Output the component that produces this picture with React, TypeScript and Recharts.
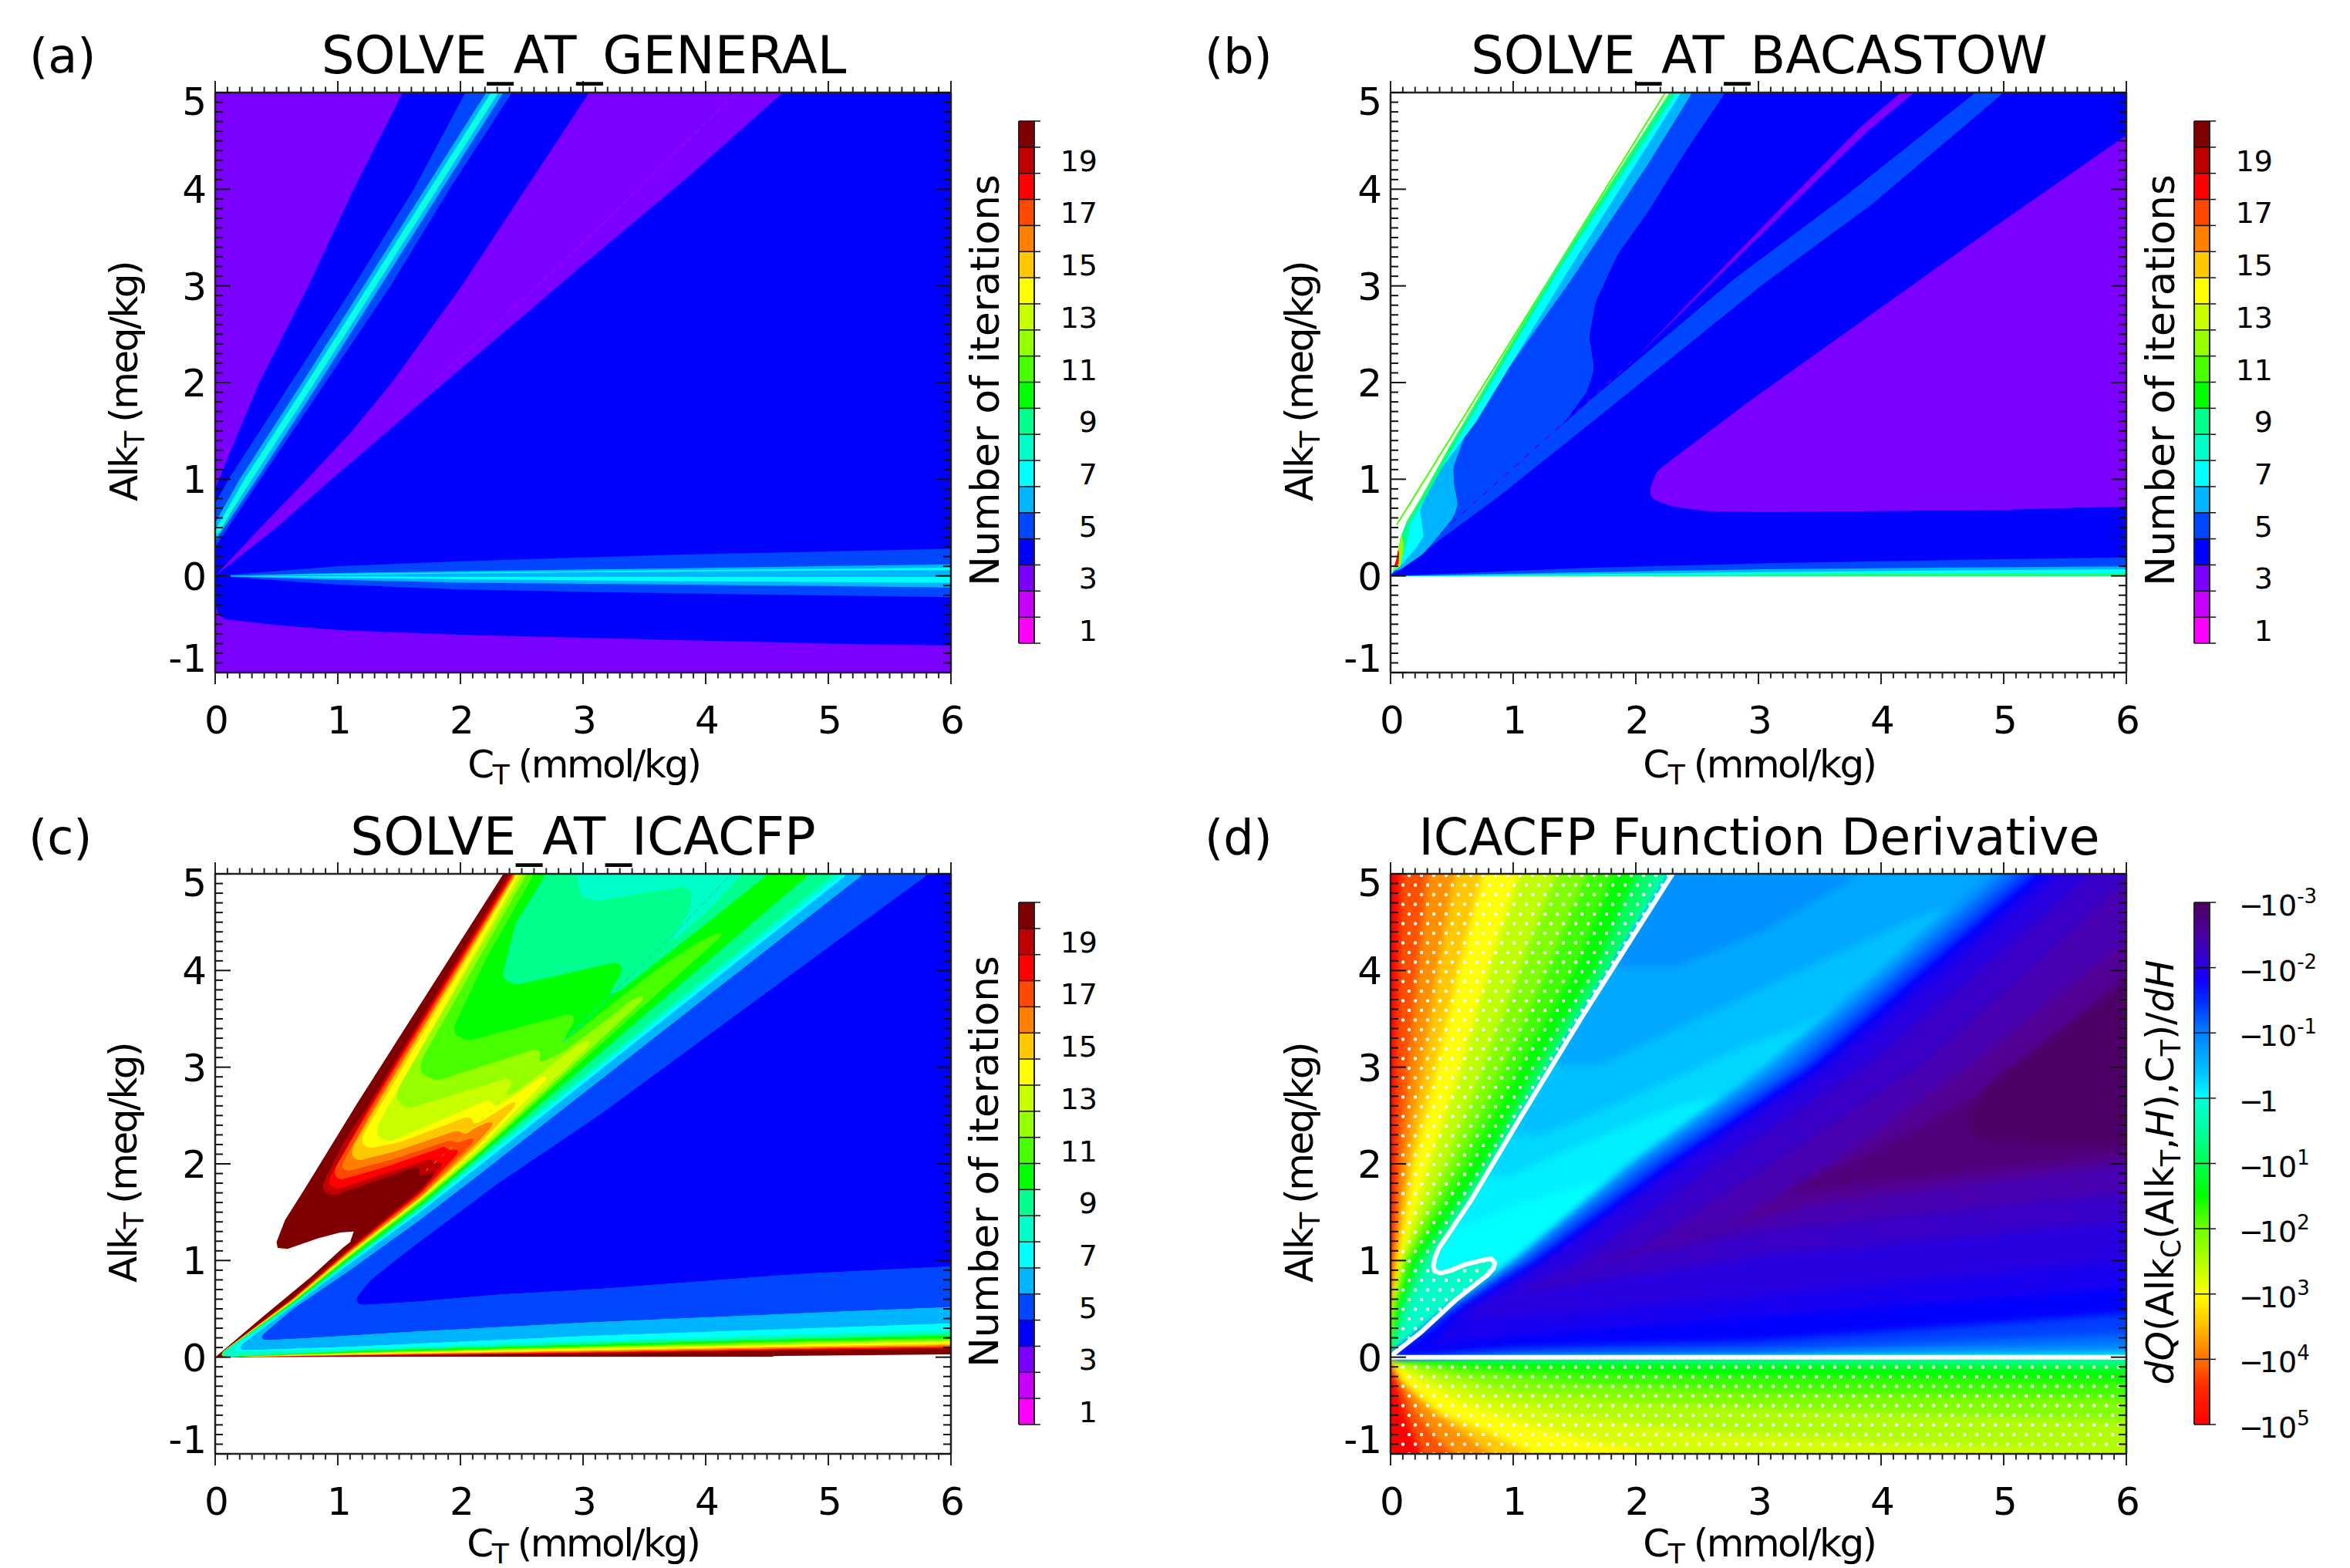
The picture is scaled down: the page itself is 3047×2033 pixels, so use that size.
import { Area, ComposedChart, Line, XAxis, YAxis } from 'recharts'

type Pt = [number, number]
type Layer = { fill: string; pts: Pt[]; cls?: string }
type Stroke = { stroke: string; width: number; dash?: string; pts: Pt[] }

const FONT = '"DejaVu Sans", sans-serif'

// axes
const xMajor = [0, 1, 2, 3, 4, 5, 6]
const yMajor = [-1, 0, 1, 2, 3, 4, 5]
const xTicks = Array.from({ length: 61 }, (_, i) => i / 10)
const yTicks = Array.from({ length: 61 }, (_, i) => (i - 10) / 10)

// colour levels, one per iteration count
const levels = [1, 2, 3, 4, 5, 6, 7, 8, 9, 10, 11, 12, 13, 14, 15, 16, 17, 18, 19, 20]
const levelColors = ['#ff00ff', '#c800ff', '#7b00ff', '#0000ff', '#0047ff', '#00b4ff', '#00ffff', '#00ffc8', '#00ff8c', '#00ff00', '#48ff00', '#96ff00', '#c8ff00', '#ffff00', '#ffc800', '#ff7f00', '#ff4800', '#ff0000', '#bf0000', '#7f0000']
const [, , C3, C4, C5, C6, C7, C8, C9, C10, C11, C12, C13, C14, C15, C16, C17, C18, C19, C20] = levelColors
const levelTickLabels = [1, 3, 5, 7, 9, 11, 13, 15, 17, 19]
const levelEdges = [0.5, 1.5, 2.5, 3.5, 4.5, 5.5, 6.5, 7.5, 8.5, 9.5, 10.5, 11.5, 12.5, 13.5, 14.5, 15.5, 16.5, 17.5, 18.5, 19.5, 20.5]

const decadeExponents = [-3, -2, -1, 0, 1, 2, 3, 4, 5]
const decadeStops: [string, string][] = [['0%', '#4d0060'], ['6%', '#4b00a0'], ['12%', '#2c00e0'], ['15%', '#1000ff'], ['19%', '#0030ff'], ['25%', '#0080ff'], ['33%', '#00c8ff'], ['37.4%', '#00ffff'], ['37.6%', '#00ffd8'], ['44%', '#00ff98'], ['50%', '#00ff50'], ['56%', '#00ff00'], ['62.5%', '#70ff00'], ['70%', '#c0ff00'], ['75%', '#ffff00'], ['81%', '#ffc000'], ['87.5%', '#ff7000'], ['93%', '#ff2800'], ['100%', '#ff0000']]

// (a) SOLVE_AT_GENERAL
const aBack: Pt[] = [[0, -1], [6, -1], [6, 5], [0, 5]]
const aBlueLeft: Pt[] = [[0, 0.9], [0.19, 1.49], [0.36, 2], [0.76, 3], [1.13, 4], [1.53, 5], [3.05, 5], [2.53, 4], [2.01, 3], [1.44, 2], [1.11, 1.49], [0.75, 1], [0.37, 0.5], [0, 0]]
const aBlueMain: Pt[] = [[0, 0], [0.5, 0.5], [0.95, 1], [1.4, 1.49], [1.87, 2], [2.43, 2.6], [3.03, 3.25], [3.85, 4.12], [4.63, 5], [6, 5], [6, -0.72], [5, -0.7], [4, -0.67], [3, -0.64], [2, -0.61], [1, -0.56], [0.5, -0.51], [0.09, -0.45], [0.03, -0.41], [0, -0.29]]
const aBand5: Pt[] = [[0, 0.75], [0.11, 1], [0.62, 2], [1.13, 3], [1.62, 4], [2.04, 5], [2.42, 5], [1.91, 4], [1.43, 3], [0.9, 2], [0.37, 1], [0, 0.3]]
const aBand6: Pt[] = [[0, 0.55], [0.2, 1], [0.71, 2], [1.21, 3], [1.71, 4], [2.21, 5], [2.35, 5], [1.85, 4], [1.35, 3], [0.85, 2], [0.34, 1], [0, 0.36]]
const aBand7: Pt[] = [[0, 0.47], [0.24, 1], [0.75, 2], [1.25, 3], [1.75, 4], [2.25, 5], [2.31, 5], [1.81, 4], [1.31, 3], [0.81, 2], [0.3, 1], [0, 0.4]]
const aZero5: Pt[] = [[0, 0], [1, 0.1], [2, 0.15], [3, 0.19], [3.8, 0.22], [6, 0.28], [6, -0.22], [3.8, -0.18], [3, -0.165], [2, -0.14], [1, -0.09]]
const aZero6: Pt[] = [[0, 0], [1, 0.03], [2, 0.05], [3.8, 0.08], [6, 0.12], [6, -0.12], [3.8, -0.09], [2, -0.07], [1, -0.04]]
const aZero7Top: Pt[] = [[0.3, 0.01], [1, 0.02], [2, 0.035], [3.8, 0.06], [6, 0.085], [6, 0.06], [3.8, 0.045], [2, 0.025], [1, 0.012]]
const aZero7Low: Pt[] = [[0, 0], [1, -0.005], [2, -0.01], [3.8, -0.01], [6, -0.01], [6, -0.07], [3.8, -0.055], [2, -0.035], [1, -0.02]]
const layersA: Layer[] = [
  { fill: C3, pts: aBack },
  { fill: C4, pts: aBlueLeft },
  { fill: C4, pts: aBlueMain },
  { fill: C5, pts: aBand5 },
  { fill: C6, pts: aBand6 },
  { fill: C7, pts: aBand7 },
  { fill: C5, pts: aZero5 },
  { fill: C6, pts: aZero6 },
  { fill: C7, pts: aZero7Top },
  { fill: C7, pts: aZero7Low },
]
const linesA: Stroke[] = [
  { stroke: '#30ff90', width: 1.5, pts: [[0.03, 0.45], [0.27, 1], [0.78, 2], [1.28, 3], [1.78, 4], [2.28, 5]] },
  { stroke: '#c800ff', width: 1, dash: '8 5', pts: [[1.78, 2], [3.03, 3.48], [4.25, 5]] },
]

// (b) SOLVE_AT_BACASTOW
const bBlue: Pt[] = [[0, 0], [2.3, 5], [6, 5], [6, 0]]
const bDiag: Pt[] = [[0, 0], [0.88, 0.98], [1.65, 1.84], [2.81, 3.08], [3.71, 3.93], [4.77, 5], [5, 5], [3.93, 3.85], [3.02, 3], [1.65, 1.6], [0.88, 0.82]]
const bSliver: Pt[] = [[1.97, 2.22], [3.07, 3.66], [3.83, 4.64], [4.16, 5], [4.27, 5], [3.89, 4.6], [3.11, 3.64]]
const bBigPurple: Pt[] = [[2.11, 0.88], [2.17, 1.08], [2.29, 1.2], [2.94, 1.82], [3.87, 2.66], [4.89, 3.58], [6, 4.56], [6, 0.72], [4.89, 0.68], [3.87, 0.67], [3.06, 0.66], [2.58, 0.67], [2.29, 0.72], [2.13, 0.8]]
const bLeftEdge: Pt[] = [[0.01, 0.02], [0.055, 0.19], [0.08, 0.39], [0.13, 0.55], [0.24, 0.78], [0.5, 1.37], [1.36, 3.2], [2.28, 5]]
const b5: Pt[] = [[0, 0], ...bLeftEdge, [2.73, 5], [2.42, 4.42], [2.1, 3.77], [1.85, 3.32], [1.67, 2.83], [1.62, 2.47], [1.66, 2.14], [1.6, 1.9], [1.43, 1.61], [1.2, 1.29], [0.9, 0.98], [0.6, 0.66], [0.3, 0.34]]
const b6: Pt[] = [...bLeftEdge, [2.46, 5], [2.1, 4.26], [1.46, 3.04], [0.82, 1.9], [0.63, 1.53], [0.51, 1.12], [0.52, 0.92], [0.55, 0.74], [0.51, 0.6], [0.27, 0.23], [0.05, 0.04]]
const b7: Pt[] = [...bLeftEdge, [2.37, 5], [1.42, 3.1], [0.7, 1.6], [0.35, 1], [0.24, 0.68], [0.27, 0.41], [0.21, 0.29], [0.1, 0.13]]
const b9: Pt[] = [...bLeftEdge, [2.33, 5], [1.39, 3.2], [0.53, 1.37], [0.28, 0.8], [0.16, 0.55], [0.14, 0.39], [0.1, 0.21]]
const bYellow: Pt[] = [[0.02, 0.06], [0.055, 0.19], [0.08, 0.39], [0.09, 0.44], [0.11, 0.3], [0.08, 0.1]]
const bRed: Pt[] = [[0.03, 0.1], [0.05, 0.19], [0.06, 0.27], [0.07, 0.24], [0.065, 0.12]]
const bLow5: Pt[] = [[0, 0], [1.65, 0.085], [3.06, 0.13], [4.89, 0.17], [6, 0.19], [6, 0]]
const bLow6: Pt[] = [[0, 0], [1.65, 0.04], [3.06, 0.07], [4.89, 0.09], [6, 0.1], [6, 0]]
const bLow7: Pt[] = [[0, 0], [1.65, 0.02], [3.06, 0.04], [4.89, 0.06], [6, 0.07], [6, 0]]
const bLow9: Pt[] = [[0.3, 0], [3.06, 0.018], [6, 0.03], [6, 0]]
const layersB: Layer[] = [
  { fill: C4, pts: bBlue },
  { fill: C5, pts: bDiag },
  { fill: C3, pts: bSliver },
  { fill: C3, pts: bBigPurple, cls: 'round' },
  { fill: C5, pts: b5, cls: 'round' },
  { fill: C6, pts: b6, cls: 'round' },
  { fill: C7, pts: b7 },
  { fill: C9, pts: b9 },
  { fill: C12, pts: bYellow },
  { fill: C18, pts: bRed },
  { fill: C5, pts: bLow5 },
  { fill: C6, pts: bLow6 },
  { fill: C7, pts: bLow7 },
  { fill: '#20ff60', pts: bLow9 },
]
const linesB: Stroke[] = [
  { stroke: '#48ff00', width: 2, pts: [[0.05, 0.53], [2.24, 5]] },
  { stroke: '#5000ff', width: 1.5, dash: '8 10', pts: [[0.5, 0.55], [1.97, 2.22]] },
  { stroke: '#30ff60', width: 2, pts: bLeftEdge.slice(3) },
]

// (c) SOLVE_AT_ICACFP, painted from the highest count down
const cEnvelope: Pt[] = [[2.35, 5], [1.16, 2.63], [0.72, 1.72], [0.57, 1.42], [0.5, 1.19], [0.51, 1.13], [0.59, 1.12], [0.84, 1.23], [1.02, 1.29], [1.13, 1.3], [1.1, 1.19], [1.04, 1.13], [0.78, 0.83], [0.39, 0.42], [0, 0], [1.55, 0.006], [4.55, 0.006], [4.55, 0.012], [6, 0.03], [6, 5]]
const c19: Pt[] = [[2.4, 5], [1.26, 2.63], [1.05, 2.23], [0.91, 1.88], [0.87, 1.75], [0.9, 1.69], [0.97, 1.67], [1.26, 1.8], [1.66, 1.98], [1.69, 1.95], [1.62, 1.83], [1.56, 1.74], [1.72, 1.9], [1.84, 1.96], [1.68, 1.74], [1.09, 1.125], [0.635, 0.62], [0, 0], [1.1, 0.014], [3.03, 0.035], [4.85, 0.07], [6, 0.085], [6, 5]]
const c18: Pt[] = [[2.417, 5], [1.275, 2.63], [0.92, 1.83], [0.94, 1.75], [1.01, 1.74], [1.33, 1.88], [1.77, 2.06], [1.8, 2.03], [1.72, 1.93], [1.8, 2], [1.92, 2.08], [1.68, 1.72], [1.09, 1.11], [0.635, 0.61], [0, 0], [1.1, 0.017], [3.03, 0.043], [4.85, 0.08], [6, 0.095], [6, 5]]
const c17: Pt[] = [[2.43, 5], [1.29, 2.63], [0.98, 1.96], [0.97, 1.87], [1.01, 1.83], [1.37, 1.96], [1.83, 2.16], [1.88, 2.2], [1.91, 2.23], [1.89, 2.16], [1.85, 2.08], [1.88, 2.12], [2.04, 2.19], [1.68, 1.7], [1.09, 1.1], [0.635, 0.605], [0, 0], [1.1, 0.02], [3.03, 0.05], [4.85, 0.087], [6, 0.105], [6, 5]]
const c16: Pt[] = [[2.44, 5], [1.31, 2.63], [1.02, 1.96], [1.07, 1.92], [1.43, 2.04], [1.93, 2.25], [1.97, 2.21], [2.18, 2.32], [1.68, 1.68], [1.09, 1.09], [0.635, 0.6], [0, 0], [1.1, 0.022], [3.03, 0.058], [4.85, 0.095], [6, 0.115], [6, 5]]
const c15: Pt[] = [[2.45, 5], [1.33, 2.63], [1.12, 2.17], [1.11, 2.08], [1.16, 2.03], [1.47, 2.13], [1.98, 2.35], [2.03, 2.32], [2, 2.25], [2.1, 2.36], [2.33, 2.49], [2.145, 2.23], [1.68, 1.66], [1.09, 1.08], [0.635, 0.595], [0, 0], [1.1, 0.025], [3.03, 0.065], [4.85, 0.105], [6, 0.125], [6, 5]]
const c14: Pt[] = [[2.46, 5], [1.36, 2.63], [1.21, 2.31], [1.19, 2.2], [1.26, 2.16], [1.52, 2.23], [2.06, 2.49], [2.12, 2.47], [2.06, 2.36], [2.25, 2.5], [2.42, 2.64], [2.53, 2.71], [2.145, 2.19], [1.68, 1.65], [1.09, 1.07], [0.635, 0.59], [0, 0], [1.1, 0.03], [3.03, 0.075], [4.85, 0.115], [6, 0.14], [6, 5]]
const c13: Pt[] = [[2.48, 5], [1.33, 2.41], [1.31, 2.29], [1.42, 2.23], [2.26, 2.68], [2.26, 2.6], [2.18, 2.46], [2.28, 2.59], [2.44, 2.71], [2.67, 2.91], [2.78, 2.97], [2.145, 2.16], [1.68, 1.64], [1.09, 1.06], [0.635, 0.585], [0, 0], [1.1, 0.035], [3.03, 0.085], [4.85, 0.13], [6, 0.155], [6, 5]]
const c12: Pt[] = [[2.51, 5], [1.5, 2.8], [1.47, 2.66], [1.57, 2.57], [2.42, 2.9], [2.42, 2.82], [2.32, 2.66], [2.44, 2.73], [2.69, 2.97], [2.98, 3.25], [3.13, 3.32], [2.145, 2.13], [1.68, 1.63], [1.09, 1.05], [0.635, 0.58], [0, 0], [1.1, 0.04], [3.03, 0.095], [4.85, 0.14], [6, 0.17], [6, 5]]
const c11: Pt[] = [[2.54, 5], [1.68, 3.07], [1.67, 2.94], [1.81, 2.86], [2.64, 3.2], [2.66, 3.11], [2.54, 2.92], [2.69, 3.07], [2.84, 3.16], [3.15, 3.45], [3.4, 3.7], [3.58, 3.8], [2.145, 2.11], [1.68, 1.62], [1.09, 1.04], [0.635, 0.575], [0, 0], [1.1, 0.045], [3.03, 0.105], [4.85, 0.155], [6, 0.185], [6, 5]]
const c10: Pt[] = [[2.6, 5], [2.2, 4.1], [1.95, 3.43], [1.94, 3.35], [2.06, 3.27], [2.91, 3.56], [2.94, 3.49], [2.82, 3.27], [2.84, 3.25], [3.19, 3.61], [3.61, 4.02], [3.92, 4.28], [4.24, 4.48], [2.145, 2.1], [1.68, 1.6], [1.09, 1.03], [0.635, 0.57], [0, 0], [1.1, 0.05], [3.03, 0.115], [4.85, 0.17], [6, 0.2], [6, 5]]
const c9Left: Pt[] = [[2.7, 5], [2.45, 4.49], [2.35, 4], [2.34, 3.92], [2.45, 3.85], [3.28, 4.09], [3.33, 4.02], [3.25, 3.84], [3.15, 3.68], [3.33, 3.82], [3.93, 4.41], [4.51, 5]]
const c9Right: Pt[] = [[4.85, 5], [2.145, 2.07], [1.68, 1.575], [1.09, 1.01], [0.635, 0.56], [0, 0], [1.1, 0.06], [3.03, 0.13], [4.85, 0.19], [6, 0.225], [6, 5]]
const c8Left: Pt[] = [[2.95, 5], [2.98, 4.76], [3.12, 4.72], [3.83, 4.87], [3.89, 4.82], [3.87, 4.61], [3.67, 4.25], [3.35, 3.84], [3.79, 4.36], [4.05, 4.66], [4.3, 5]]
const c8Right: Pt[] = [[5.05, 5], [2.145, 2.04], [1.68, 1.55], [1.09, 0.99], [0.635, 0.55], [0, 0], [1.1, 0.07], [3.03, 0.15], [4.85, 0.21], [6, 0.25], [6, 5]]
const c7: Pt[] = [[5.11, 5], [2.145, 2.01], [1.68, 1.53], [1.09, 0.98], [0.635, 0.54], [0.1, 0.06], [1.1, 0.085], [3.03, 0.17], [4.85, 0.24], [6, 0.28], [6, 5]]
const c6: Pt[] = [[5.16, 5], [2.145, 1.97], [1.68, 1.51], [1.09, 0.96], [0.635, 0.53], [0.15, 0.07], [1.1, 0.11], [3.03, 0.22], [4.85, 0.3], [6, 0.35], [6, 5]]
const c5: Pt[] = [[5.29, 5], [2.145, 1.88], [1.68, 1.43], [1.09, 0.89], [0.635, 0.5], [0.33, 0.17], [0.78, 0.2], [1.55, 0.26], [3.03, 0.36], [4.85, 0.46], [6, 0.52], [6, 5]]
const c4: Pt[] = [[1.13, 0.58], [1.18, 0.54], [1.68, 0.58], [2.31, 0.65], [3.15, 0.71], [4.85, 0.87], [6, 0.94], [6, 5], [5.82, 5], [5.29, 4.51], [3.15, 2.52], [2.31, 1.8], [1.58, 1.11], [1.26, 0.79]]
const layersC: Layer[] = [
  { fill: C20, pts: cEnvelope },
  { fill: C19, pts: c19, cls: 'round' },
  { fill: C18, pts: c18, cls: 'round' },
  { fill: C17, pts: c17, cls: 'round' },
  { fill: C16, pts: c16, cls: 'round' },
  { fill: C15, pts: c15, cls: 'round' },
  { fill: C14, pts: c14, cls: 'round' },
  { fill: C13, pts: c13, cls: 'round' },
  { fill: C12, pts: c12, cls: 'round' },
  { fill: C11, pts: c11, cls: 'round' },
  { fill: C10, pts: c10, cls: 'round' },
  { fill: C9, pts: c9Left, cls: 'round' },
  { fill: C9, pts: c9Right, cls: 'round' },
  { fill: C8, pts: c8Left, cls: 'round' },
  { fill: C8, pts: c8Right, cls: 'round' },
  { fill: C7, pts: c7, cls: 'round' },
  { fill: C6, pts: c6, cls: 'round' },
  { fill: C5, pts: c5, cls: 'round' },
  { fill: C4, pts: c4, cls: 'round' },
]
const linesC: Stroke[] = [
  { stroke: '#10e0b0', width: 1.5, dash: '10 4', pts: [[2.83, 3.25], [3.26, 3.79], [3.79, 4.44], [4.21, 5]] },
  { stroke: '#a0e000', width: 1, dash: '4 10', pts: [[1.72, 1.93], [1.96, 2.21], [2.29, 2.6], [2.83, 3.25]] },
]

// (d) ICACFP Function Derivative: hand-traced contours of the shading
const closeRight: Pt[] = [[6, 0], [6, 5]]
const dRed: Pt[] = [[0, 0], [0, 5], [6, 5], [6, 0]]
const dLeft1: Pt[] = [[0.08, 5], [0.06, 4], [0.04, 3], [0.025, 2], [0.01, 1], [0.004, 0.5], [0, 0], ...closeRight]
const dLeft2: Pt[] = [[0.3, 5], [0.22, 4], [0.15, 3], [0.08, 2], [0.03, 1], [0.01, 0.5], [0, 0], ...closeRight]
const dLeft3: Pt[] = [[0.52, 5], [0.38, 4], [0.26, 3], [0.14, 2], [0.045, 1], [0.015, 0.5], [0, 0], ...closeRight]
const dLeft4: Pt[] = [[0.75, 5], [0.55, 4], [0.37, 3], [0.19, 2], [0.06, 1], [0.02, 0.5], [0, 0], ...closeRight]
const dLeft5: Pt[] = [[1.05, 5], [0.8, 4], [0.58, 3], [0.32, 2], [0.09, 1], [0.03, 0.5], [0, 0], ...closeRight]
const dLeft6: Pt[] = [[1.35, 5], [1.05, 4], [0.76, 3], [0.45, 2], [0.12, 1], [0.035, 0.5], [0, 0], ...closeRight]
const dLeft7: Pt[] = [[1.6, 5], [1.28, 4], [0.92, 3], [0.55, 2], [0.14, 1], [0.04, 0.5], [0, 0], ...closeRight]
const dLeft8: Pt[] = [[1.82, 5], [1.5, 4], [1.05, 3], [0.65, 2], [0.17, 1], [0.05, 0.5], [0, 0], ...closeRight]
const dLeft9: Pt[] = [[2, 5], [1.66, 4], [1.18, 3], [0.76, 2], [0.22, 1], [0.08, 0.5], [0, 0], ...closeRight]
const dLeft10: Pt[] = [[2.15, 5], [1.8, 4], [1.3, 3], [0.85, 2], [0.28, 1], [0.11, 0.5], [0, 0], ...closeRight]
const dLeft11: Pt[] = [[2.25, 5], [1.88, 4], [1.36, 3], [0.9, 2], [0.34, 1], [0.16, 0.5], [0, 0], ...closeRight]

const dBottomBase: Pt[] = [[0, 0], [0, -1], [6, -1], [6, 0]]
const dLow1: Pt[] = [[0, -0.12], [0.05, -0.3], [0.12, -0.6], [0.2, -0.85], [0.25, -1], [6, -1], [6, 0], [0, 0]]
const dLow2: Pt[] = [[0, -0.06], [0.07, -0.25], [0.2, -0.55], [0.35, -0.8], [0.5, -1], [6, -1], [6, 0], [0, 0]]
const dLow3: Pt[] = [[0.02, -0.08], [0.1, -0.22], [0.3, -0.5], [0.55, -0.75], [0.82, -1], [6, -1], [6, 0], [0, 0]]
const dLow4: Pt[] = [[0.03, -0.06], [0.1, -0.25], [0.4, -0.58], [0.82, -0.8], [1.15, -1], [6, -1], [6, 0], [0, 0]]
const dLow5: Pt[] = [[0.05, -0.07], [0.2, -0.22], [0.6, -0.48], [1.2, -0.72], [1.7, -0.88], [2.2, -1], [6, -1], [6, 0], [0, 0]]
const dLow6: Pt[] = [[0.1, -0.08], [0.3, -0.2], [0.8, -0.42], [1.5, -0.6], [2.5, -0.76], [4, -0.88], [5.5, -0.98], [6, -1], [6, 0], [0, 0]]
const dLow7: Pt[] = [[0.15, -0.07], [0.4, -0.16], [1, -0.35], [2, -0.47], [3.5, -0.55], [6, -0.65], [6, 0], [0, 0]]
const dLow8: Pt[] = [[0.2, -0.05], [0.6, -0.14], [1.5, -0.27], [3, -0.36], [6, -0.42], [6, 0], [0, 0]]
const dLow9: Pt[] = [[0.3, -0.04], [1, -0.12], [2.5, -0.19], [6, -0.25], [6, 0], [0, 0]]
const dLow10: Pt[] = [[0.5, -0.03], [2, -0.07], [6, -0.12], [6, 0], [0, 0]]
const dLow11: Pt[] = [[0, 0], [1, -0.015], [6, -0.05], [6, 0]]

const dCurve: Pt[] = [[0.01, 0.02], [0.25, 0.26], [0.53, 0.59], [0.79, 0.85], [0.84, 0.92], [0.85, 0.98], [0.82, 1.02], [0.74, 1], [0.61, 0.96], [0.5, 0.9], [0.41, 0.87], [0.36, 0.89], [0.35, 0.94], [0.36, 1.02], [0.39, 1.12], [0.65, 1.61], [1.05, 2.46], [1.58, 3.56], [2.3, 5]]
const dCyan: Pt[] = [...dCurve, [6, 5], [6, 0], [0, 0]]
const dWave1: Pt[] = [[0.5, 1.35], [0.67, 1.38], [1.05, 1.59], [1.56, 1.77], [2.5, 2], [6, 5], [2.3, 5], [1.58, 3.56], [1.05, 2.46], [0.65, 1.61]]
const dWave2: Pt[] = [[0.77, 1.87], [0.97, 1.87], [1.46, 2.15], [2, 2.43], [2.35, 2.6], [2.7, 2.7], [6, 5], [2.3, 5], [1.58, 3.56], [1.05, 2.46]]
const dWave3: Pt[] = [[0.98, 2.3], [1.24, 2.3], [1.86, 2.63], [2.98, 3.26], [3.3, 3.4], [6, 5], [2.3, 5], [1.58, 3.56], [1.05, 2.46]]
const dWave4: Pt[] = [[1.32, 3.03], [1.72, 3.03], [2.46, 3.48], [4.1, 4.44], [4.4, 4.6], [6, 5], [2.3, 5], [1.58, 3.56]]
const dWave5: Pt[] = [[1.82, 4.04], [2.34, 4.04], [3.06, 4.42], [3.82, 4.99], [2.3, 5]]
const dRidge1: Pt[] = [[0, 0], [1, 0.015], [3, 0.02], [6, 0.04], [6, 5], [4.85, 5], [4, 4], [3.05, 3], [1.95, 2], [1, 1], [0.45, 0.5]]
const dRidge2: Pt[] = [[0, 0], [1, 0.03], [3, 0.05], [6, 0.12], [6, 5], [4.98, 5], [4.1, 4], [3.18, 3], [2.03, 2], [1.05, 1], [0.48, 0.5]]
const dRidge3: Pt[] = [[0, 0], [1, 0.05], [3, 0.08], [6, 0.24], [6, 5], [5.12, 5], [4.2, 4], [3.3, 3], [2.12, 2], [1.1, 1], [0.5, 0.5]]
const dRidge4: Pt[] = [[0, 0], [1, 0.1], [3, 0.17], [6, 0.45], [6, 5], [5.25, 5], [4.33, 4], [3.42, 3], [2.24, 2], [1.18, 1], [0.55, 0.5]]
const dDeep1: Pt[] = [[0.3, 0.1], [1, 0.22], [3, 0.42], [6, 0.72], [6, 5], [5.35, 5], [4.42, 4], [3.5, 3], [2.32, 2], [1.25, 1], [0.6, 0.5]]
const dDeep2: Pt[] = [[0.55, 0.4], [1, 0.4], [3, 0.63], [6, 1], [6, 5], [5.45, 5], [4.55, 4], [3.6, 3], [2.4, 2], [1.3, 1]]
const dDeep3: Pt[] = [[1, 0.65], [3, 1.04], [6, 1.4], [6, 5], [5.7, 5], [4.8, 4], [3.85, 3], [2.65, 2], [1.55, 1]]
const dDeep4: Pt[] = [[1.6, 0.95], [3, 1.3], [6, 1.7], [6, 4.95], [5.2, 4], [4.3, 3], [3.1, 2], [2.05, 1.15]]
const dDeep5: Pt[] = [[2.4, 1.25], [3.5, 1.6], [6, 2], [6, 4.3], [5.7, 4], [4.7, 3], [3.6, 2], [2.8, 1.4]]
const dDeep6: Pt[] = [[3.2, 1.7], [6, 2.1], [6, 3.6], [5.2, 3], [4.2, 2.3]]
const dDeep7: Pt[] = [[4.7, 2.46], [4.78, 2.26], [5.27, 2.21], [6, 2.2], [6, 3.93], [5.47, 3.4], [4.87, 2.83]]
const dStippleLeft: Pt[] = [[0.08, 5], [0.08, 0.08], ...dCurve.slice(1)]
const dStippleLow: Pt[] = [[0.08, -0.06], [0.08, -1], [5.96, -1], [5.96, -0.06]]
const softLayers: [string, Pt[]][] = [
  ['#ff0000', dRed], ['#ff5000', dLeft1], ['#ff9000', dLeft2], ['#ffc800', dLeft3], ['#ffff00', dLeft4], ['#c0ff00', dLeft5],
  ['#80ff00', dLeft6], ['#40ff00', dLeft7], ['#00ff00', dLeft8], ['#00ff60', dLeft9], ['#00ffa0', dLeft10], ['#00ffc8', dLeft11],
  ['#ff0000', dBottomBase], ['#ff5000', dLow1], ['#ff9000', dLow2], ['#ffc800', dLow3], ['#ffff00', dLow4], ['#d8ff00', dLow5],
  ['#b0ff00', dLow6], ['#80ff00', dLow7], ['#40ff00', dLow8], ['#00ff00', dLow9], ['#00ff60', dLow10], ['#00ffa8', dLow11],
  ['#00ffff', dCyan], ['#00f0ff', dWave1], ['#00d8ff', dWave2], ['#00c0ff', dWave3], ['#00a8ff', dWave4], ['#0090ff', dWave5],
  ['#0098ff', dRidge1], ['#0070ff', dRidge2], ['#0040ff', dRidge3], ['#0000ff', dRidge4], ['#1800f0', dDeep1], ['#2800e0', dDeep2],
  ['#3800c8', dDeep3], ['#4800b0', dDeep4], ['#520094', dDeep5], ['#500078', dDeep6], ['#4d0066', dDeep7],
]
const layersD: Layer[] = [
  ...softLayers.map(([fill, pts]) => ({ fill, pts, cls: 'soft' })),
  { fill: 'url(#stipple)', pts: dStippleLeft },
  { fill: 'url(#stipple)', pts: dStippleLow },
]
const linesD: Stroke[] = [
  { stroke: '#ffffff', width: 6, pts: dCurve },
  { stroke: '#ffffff', width: 6, pts: [[0, 0], [6, 0]] },
]

const M = { left: 130, right: 30, top: 40, bottom: 120 }
const MARGIN = { left: M.left - 1, right: M.right - 1, top: M.top - 1, bottom: M.bottom - 1 }
const PLOT_W = 954
const PLOT_H = 752

const onEdge = ([x, y]: Pt) => x === 0 || x === 6 || y === 5 || y === -1
// soft and rounded layers must not fade at the frame, so edge points are carried past it (the plot clips them)
const outward = ([x, y]: Pt): Pt => [x === 0 ? -0.3 : x === 6 ? 6.3 : x, y === 5 ? 5.3 : y === -1 ? -1.3 : y]
const padEdges = (pts: Pt[]) => {
  const out: Pt[] = []
  pts.forEach((p, i) => {
    if (!onEdge(p)) {
      out.push(p)
      return
    }
    const prev = pts[(i + pts.length - 1) % pts.length]
    const next = pts[(i + 1) % pts.length]
    if (!onEdge(prev)) out.push(p)
    out.push(outward(p))
    if (!onEdge(next)) out.push(p)
  })
  return out
}
const toRows = (pts: Pt[]) => [...pts, pts[0]].map(([x, y]) => ({ x, y }))
const lineRows = (pts: Pt[]) => pts.map(([x, y]) => ({ x, y }))

function XTick({ x, y, payload, top }: any) {
  const major = xMajor.includes(payload.value)
  const len = major ? 15 : 7.5
  return (
    <g>
      <line x1={x} x2={x} y1={y} y2={top ? y - len : y + len} stroke="#222" strokeWidth={2} />
      {major && !top && (
        <text x={x + 2} y={y + 79} textAnchor="middle" fontSize={50} fontFamily={FONT} fill="#000">{payload.value}</text>
      )}
    </g>
  )
}

function YTick({ x, y, payload, right }: any) {
  const major = yMajor.includes(payload.value)
  const len = major ? 20 : 10
  const nudge = payload.value === 5 ? 11 : payload.value === -1 ? -19 : 0
  return (
    <g>
      <line x1={x} x2={right ? x - len : x + len} y1={y} y2={y} stroke="#111" strokeWidth={2} />
      {major && !right && (
        <text x={x - 11} y={y + 18 + nudge} textAnchor="end" fontSize={50} fontFamily={FONT} fill="#000">{payload.value}</text>
      )}
    </g>
  )
}

function Panel({ left, top, layers, lines }: { left: number; top: number; layers: Layer[]; lines: Stroke[] }) {
  return (
    <div style={{ position: 'absolute', left: left - M.left, top: top - M.top }}>
      <ComposedChart width={PLOT_W + M.left + M.right} height={PLOT_H + M.top + M.bottom} margin={MARGIN}>
        {layers.map((l, i) => {
          const pts = l.cls ? padEdges(l.pts) : l.pts
          return <Area key={i} className={l.cls} data={toRows(pts)} dataKey="y" type="linear" baseValue={pts[0][1]} fill={l.fill} fillOpacity={1} stroke="none" dot={false} activeDot={false} isAnimationActive={false} />
        })}
        {lines.map((l, i) => (
          <Line key={i} data={lineRows(l.pts)} dataKey="y" type="linear" stroke={l.stroke} strokeWidth={l.width} strokeDasharray={l.dash} strokeLinejoin="round" dot={false} activeDot={false} isAnimationActive={false} />
        ))}
        <XAxis dataKey="x" type="number" domain={[0, 6]} allowDataOverflow ticks={xTicks} interval={0} height={1} tickSize={0} tickMargin={0} tickLine={false} stroke="#222" strokeWidth={2.5} tick={(p: any) => <XTick {...p} />} />
        <XAxis xAxisId="top" orientation="top" dataKey="x" type="number" domain={[0, 6]} allowDataOverflow ticks={xTicks} interval={0} height={1} tickSize={0} tickMargin={0} tickLine={false} stroke="#222" strokeWidth={2.5} tick={(p: any) => <XTick {...p} top />} />
        <YAxis type="number" domain={[-1, 5]} allowDataOverflow ticks={yTicks} interval={0} width={1} tickSize={0} tickMargin={0} tickLine={false} stroke="#222" strokeWidth={2.5} tick={(p: any) => <YTick {...p} />} />
        <YAxis yAxisId="right" orientation="right" type="number" domain={[-1, 5]} allowDataOverflow ticks={yTicks} interval={0} width={1} tickSize={0} tickMargin={0} tickLine={false} stroke="#222" strokeWidth={2.5} tick={(p: any) => <YTick {...p} right />} />
      </ComposedChart>
    </div>
  )
}

const CB = { left: 4, right: 170, top: 30, bottom: 30 }
const CB_MARGIN = { left: CB.left - 1, right: CB.right - 1, top: CB.top, bottom: CB.bottom }
const CB_W = 20
const CB_H = 677

function LevelTick({ x, y, payload }: any) {
  const label = payload.value + 0.5
  return (
    <g>
      <line x1={x - CB_W} x2={x + 8} y1={y} y2={y} stroke="#111" strokeWidth={1.5} />
      {levelTickLabels.includes(label) && (
        <text x={x + 82} y={y - 17 + 14} textAnchor="end" fontSize={38} fontFamily={FONT} fill="#000">{label}</text>
      )}
    </g>
  )
}

function LevelBar({ left, top }: { left: number; top: number }) {
  return (
    <div style={{ position: 'absolute', left: left - CB.left, top: top - CB.top }}>
      <ComposedChart width={CB_W + CB.left + CB.right} height={CB_H + CB.top + CB.bottom} margin={CB_MARGIN}>
        {levels.map((l, i) => {
          const pts: Pt[] = [[0, l - 0.5], [1, l - 0.5], [1, l + 0.5], [0, l + 0.5]]
          return <Area key={l} data={toRows(pts)} dataKey="y" type="linear" baseValue={l - 0.5} fill={levelColors[i]} fillOpacity={1} stroke="none" dot={false} activeDot={false} isAnimationActive={false} />
        })}
        <XAxis dataKey="x" type="number" domain={[0, 1]} hide />
        <YAxis orientation="right" type="number" domain={[0.5, 20.5]} ticks={levelEdges} interval={0} width={1} tickSize={0} tickMargin={0} tickLine={false} stroke="#222" strokeWidth={2} tick={(p: any) => <LevelTick {...p} />} />
        <YAxis yAxisId="left" orientation="left" type="number" domain={[0.5, 20.5]} ticks={[]} width={1} tickLine={false} stroke="#222" strokeWidth={2} />
      </ComposedChart>
    </div>
  )
}

function DecadeTick({ x, y, payload }: any) {
  const e = payload.value
  return (
    <g>
      <line x1={x - CB_W} x2={x + 8} y1={y} y2={y} stroke="#111" strokeWidth={1.5} />
      <text x={x + 38} y={y + 17} fontSize={38} fontFamily={FONT} fill="#000">
        <tspan>−</tspan>
        <tspan dx={-5}>{e === 0 ? '1' : '10'}</tspan>
        {e !== 0 && <tspan fontSize={26} dy={-16}>{e}</tspan>}
      </text>
    </g>
  )
}

function DecadeBar({ left, top }: { left: number; top: number }) {
  const pts: Pt[] = [[0, -3], [1, -3], [1, 5], [0, 5]]
  return (
    <div style={{ position: 'absolute', left: left - CB.left, top: top - CB.top }}>
      <ComposedChart width={CB_W + CB.left + CB.right} height={CB_H + CB.top + CB.bottom} margin={CB_MARGIN}>
        <defs>
          <linearGradient id="decades" x1="0" x2="0" y1="0" y2="1">
            {decadeStops.map(([o, c]) => <stop key={o} offset={o} stopColor={c} />)}
          </linearGradient>
        </defs>
        <Area data={toRows(pts)} dataKey="y" type="linear" baseValue={-3} fill="url(#decades)" fillOpacity={1} stroke="none" dot={false} activeDot={false} isAnimationActive={false} />
        <XAxis dataKey="x" type="number" domain={[0, 1]} hide />
        <YAxis orientation="right" reversed type="number" domain={[-3, 5]} ticks={decadeExponents} interval={0} width={1} tickSize={0} tickMargin={0} tickLine={false} stroke="#222" strokeWidth={2} tick={(p: any) => <DecadeTick {...p} />} />
        <YAxis yAxisId="left" orientation="left" reversed type="number" domain={[-3, 5]} ticks={[]} width={1} tickLine={false} stroke="#222" strokeWidth={2} />
      </ComposedChart>
    </div>
  )
}

function PanelText({ dx, dy, title, titleSize, letter, bar }: { dx: number; dy: number; title: string; titleSize: number; letter: string; bar: boolean }) {
  return (
    <g fontFamily={FONT} fill="#000">
      <text x={38 + dx} y={94 + dy} fontSize={62}>{letter}</text>
      <text x={757 + dx} y={95 + dy} fontSize={titleSize} textAnchor="middle">{title}</text>
      <text x={757 + dx} y={1008 + dy - (dy ? 3 : 0)} fontSize={50} letterSpacing={-2.5} textAnchor="middle">
        C<tspan fontSize={36} dy={9}>T</tspan><tspan dy={-9}> (mmol/kg)</tspan>
      </text>
      <text transform={`translate(${178 + dx} ${495 + dy}) rotate(-90)`} fontSize={50} letterSpacing={-2.5} textAnchor="middle">
        Alk<tspan fontSize={36} dy={9}>T</tspan><tspan dy={-9}> (meq/kg)</tspan>
      </text>
      {bar && <text transform={`translate(${1295 + dx} ${493 + dy}) rotate(-90)`} fontSize={51.5} textAnchor="middle">Number of iterations</text>}
    </g>
  )
}

export default function App() {
  const dx = 1524
  const dy = 1013
  return (
    <div style={{ position: 'absolute', left: 0, top: 0, width: 3047, height: 2033, background: '#fff', overflow: 'hidden' }}>
      <style>{`
        .soft .recharts-area-area { filter: blur(5px); }
        .round .recharts-area-area { filter: url(#round); }
      `}</style>
      <svg width={0} height={0} style={{ position: 'absolute' }}>
        <defs>
          <pattern id="stipple" patternUnits="userSpaceOnUse" x={M.left} y={M.top + PLOT_H} width={16} height={25}>
            <circle cx={8} cy={0} r={2.2} fill="#fff" />
            <circle cx={8} cy={25} r={2.2} fill="#fff" />
            <circle cx={0} cy={12.5} r={2.2} fill="#fff" />
            <circle cx={16} cy={12.5} r={2.2} fill="#fff" />
          </pattern>
          <filter id="round" colorInterpolationFilters="sRGB">
            <feGaussianBlur stdDeviation={4} />
            <feColorMatrix values="1 0 0 0 0  0 1 0 0 0  0 0 1 0 0  0 0 0 18 -8.5" />
          </filter>
        </defs>
      </svg>
      <Panel left={279} top={120} layers={layersA} lines={linesA} />
      <Panel left={1803} top={120} layers={layersB} lines={linesB} />
      <Panel left={279} top={1133} layers={layersC} lines={linesC} />
      <Panel left={1803} top={1133} layers={layersD} lines={linesD} />
      <LevelBar left={1321} top={157} />
      <LevelBar left={2845} top={157} />
      <LevelBar left={1321} top={1170} />
      <DecadeBar left={2845} top={1170} />
      <svg width={3047} height={2033} style={{ position: 'absolute', left: 0, top: 0, pointerEvents: 'none' }}>
        <PanelText dx={0} dy={0} title="SOLVE_AT_GENERAL" titleSize={67.5} letter="(a)" bar />
        <PanelText dx={dx} dy={0} title="SOLVE_AT_BACASTOW" titleSize={67} letter="(b)" bar />
        <PanelText dx={-1} dy={dy} title="SOLVE_AT_ICACFP" titleSize={67.5} letter="(c)" bar />
        <PanelText dx={dx} dy={dy} title="ICACFP Function Derivative" titleSize={65} letter="(d)" bar={false} />
        <text transform="translate(2818 1520) rotate(-90)" fontFamily={FONT} fontSize={49} textAnchor="middle" fill="#000">
          <tspan fontStyle="italic">dQ</tspan>(Alk<tspan fontSize={35} dy={9}>C</tspan><tspan dy={-9}>(Alk</tspan><tspan fontSize={35} dy={9}>T</tspan><tspan dy={-9}>,</tspan><tspan fontStyle="italic">H</tspan>),C<tspan fontSize={35} dy={9}>T</tspan><tspan dy={-9}>)/</tspan><tspan fontStyle="italic">dH</tspan>
        </text>
      </svg>
    </div>
  )
}
